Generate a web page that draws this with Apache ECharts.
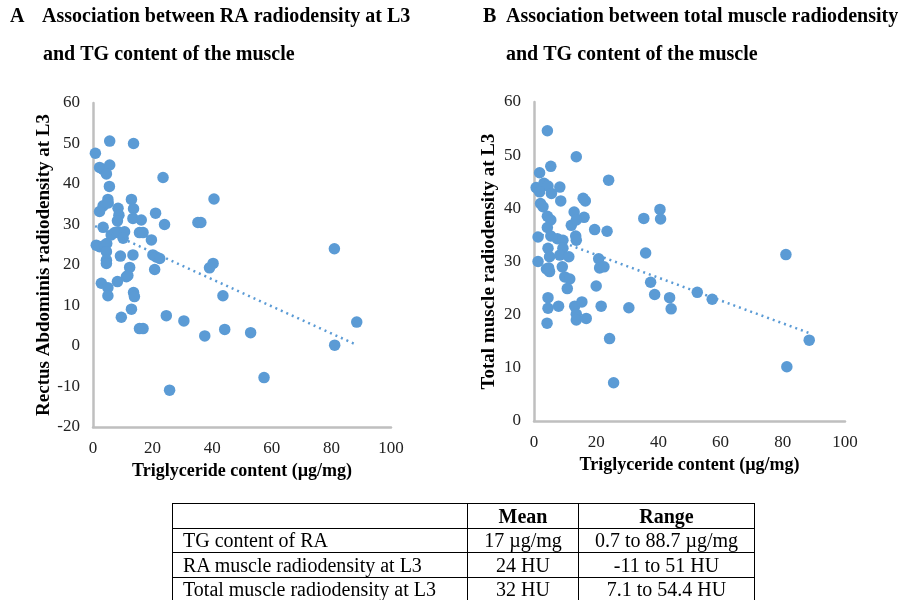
<!DOCTYPE html>
<html>
<head>
<meta charset="utf-8">
<script src="https://cdn.jsdelivr.net/npm/echarts@6/dist/echarts.min.js"></script>
<style>
html,body{margin:0;padding:0;background:#fff;}
#chart{position:absolute;left:0;top:0;width:912px;height:600px;}
#tbl{position:absolute;left:172px;top:503px;border-collapse:collapse;table-layout:fixed;font-family:"Liberation Serif","Times New Roman",serif;font-size:20px;color:#000;}
#tbl td{border:1px solid #000;padding:0 0 0 10px;height:23.5px;line-height:22px;white-space:nowrap;overflow:hidden;}
#tbl td.c{text-align:center;padding:0;}
</style>
</head>
<body>
<div id="chart"></div>
<table id="tbl">
<colgroup><col style="width:295px"><col style="width:111px"><col style="width:176px"></colgroup>
<tr><td></td><td class="c" style="font-weight:bold">Mean</td><td class="c" style="font-weight:bold">Range</td></tr>
<tr><td>TG content of RA</td><td class="c">17 µg/mg</td><td class="c">0.7 to 88.7 µg/mg</td></tr>
<tr><td>RA muscle radiodensity at L3</td><td class="c">24 HU</td><td class="c">-11 to 51 HU</td></tr>
<tr><td>Total muscle radiodensity at L3</td><td class="c">32 HU</td><td class="c">7.1 to 54.4 HU</td></tr>
</table>
<script>
// Panel A: TG content (µg/mg) vs RA radiodensity (HU)
const pointsA = [
 [0.8,47.6],[5.6,50.6],[13.6,50.0],[2.2,44.1],[3.4,43.6],[5.6,44.7],[4.5,42.5],[23.5,41.6],
 [5.5,39.4],[5.0,36.2],[12.9,36.2],[40.6,36.3],[3.4,34.6],[2.2,33.2],[5.1,35.3],[8.4,34.0],
 [13.6,33.9],[8.7,32.3],[8.2,30.9],[13.4,31.5],[16.2,31.1],[21.0,32.8],[24.0,30.0],[35.2,30.5],
 [36.2,30.5],[3.4,29.3],[6.1,27.4],[7.3,28.0],[8.4,28.2],[10.6,28.2],[10.1,26.6],[15.6,28.0],
 [16.8,28.0],[19.6,26.2],[1.1,24.9],[2.2,24.5],[3.9,24.9],[4.6,25.3],[4.5,23.3],[4.5,21.2],
 [4.5,20.4],[9.2,22.2],[13.4,22.5],[20.1,22.5],[21.2,22.0],[22.4,21.6],[12.3,19.4],[20.7,18.9],
 [40.3,20.4],[39.1,19.3],[2.8,15.5],[5.0,14.4],[5.0,12.4],[8.2,15.9],[11.2,17.1],[11.7,17.4],
 [13.6,13.2],[13.9,12.2],[43.6,12.4],[12.9,9.1],[9.5,7.1],[24.6,7.5],[30.5,6.2],[15.6,4.3],
 [16.8,4.3],[37.5,2.5],[44.2,4.1],[52.9,3.3],[25.7,-10.9],[81.0,24.0],[57.4,-7.8],[88.5,5.9],
 [81.1,0.2]
];
const trendA = [[0.7,29.6],[88.7,0.2]];

// Panel B: TG content (µg/mg) vs total muscle radiodensity (HU)
const pointsB = [
 [4.3,54.6],[13.6,49.7],[5.4,47.9],[1.8,46.7],[24.0,45.3],[0.7,43.9],[3.2,44.7],[4.5,44.2],
 [1.8,43.1],[5.6,42.8],[8.3,44.0],[8.6,41.4],[15.8,41.9],[16.5,41.4],[2.1,40.9],[2.9,40.3],
 [40.5,39.8],[35.3,38.1],[40.7,38.0],[4.3,38.5],[5.4,37.8],[12.9,39.3],[16.1,38.3],[12.0,36.8],
 [13.6,37.8],[4.3,36.4],[19.5,36.0],[23.5,35.7],[1.3,34.6],[5.4,34.8],[7.5,34.3],[9.3,34.0],
 [13.4,34.8],[13.6,34.0],[4.5,32.5],[9.3,32.5],[8.3,31.2],[5.0,30.9],[11.2,30.9],[35.9,31.6],
 [1.3,30.0],[20.8,30.5],[21.1,28.8],[22.5,29.0],[4.0,28.6],[5.0,28.1],[4.7,28.8],[9.1,29.0],
 [9.9,27.1],[11.5,26.7],[10.7,24.9],[20.0,25.4],[37.5,26.1],[38.8,23.8],[43.6,23.2],[44.1,21.1],
 [52.5,24.2],[4.5,23.2],[4.5,21.2],[7.9,21.6],[13.1,21.6],[15.4,22.4],[13.6,20.1],[13.6,19.0],
 [16.8,19.3],[21.6,21.6],[30.5,21.3],[4.2,18.4],[24.3,15.5],[25.6,7.2],[57.3,22.9],[81.0,31.3],
 [81.3,10.2],[88.5,15.2]
];
const trendB = [[0.7,35.4],[88.7,16.5]];

const titleA = ['A', 'Association between RA radiodensity at L3', 'and TG content of the muscle'];
const titleB = ['B', 'Association between total muscle radiodensity', 'and TG content of the muscle'];
const xName = 'Triglyceride content (µg/mg)';
const yNameA = 'Rectus Abdominis radiodensity at L3';
const yNameB = 'Total muscle radiodensity at L3';

const FONT = '"Liberation Serif","Times New Roman",serif';
const BLUE = '#5b9bd5';
const AXC = '#bfbfbf';

function xAxis(gridIndex, nameGap) {
  return {
    type:'value', gridIndex, min:0, max:100, interval:20,
    name:xName, nameLocation:'middle', nameGap,
    nameTextStyle:{fontFamily:FONT, fontSize:18, fontWeight:'bold', color:'#000'},
    axisLine:{show:true, onZero:false, lineStyle:{color:AXC, width:2.5}},
    axisTick:{show:false}, splitLine:{show:false},
    axisLabel:{fontFamily:FONT, fontSize:17, color:'#222', margin:13}
  };
}
function yAxis(gridIndex, min, name, nameGap) {
  return {
    type:'value', gridIndex, min, max:60, interval:10,
    name, nameLocation:'middle', nameGap, nameRotate:90,
    nameTextStyle:{fontFamily:FONT, fontSize:19, fontWeight:'bold', color:'#000'},
    axisLine:{show:true, lineStyle:{color:AXC, width:2.5}},
    axisTick:{show:false}, splitLine:{show:false},
    axisLabel:{fontFamily:FONT, fontSize:17, color:'#222', margin:13}
  };
}
function titleText(left, top, text) {
  return {type:'text', left, top, style:{text, font:'bold 20px '+FONT, fill:'#000'}};
}

const chart = echarts.init(document.getElementById('chart'), null, {renderer:'canvas'});
chart.setOption({
  animation:false,
  backgroundColor:'#fff',
  graphic:[
    titleText(10, 7, titleA[0]), titleText(42, 7, titleA[1]), titleText(43, 45, titleA[2]),
    titleText(483, 7, titleB[0]), titleText(506, 7, titleB[1]), titleText(506, 45, titleB[2])
  ],
  grid:[
    {left:93, top:103, width:298, height:324},
    {left:534, top:102, width:311, height:319}
  ],
  xAxis:[xAxis(0, 26), xAxis(1, 35)],
  yAxis:[yAxis(0, -20, yNameA, 36), yAxis(1, 0, yNameB, 35)],
  series:[
    {type:'scatter', xAxisIndex:0, yAxisIndex:0, data:pointsA, symbolSize:11.5, itemStyle:{color:BLUE, opacity:1}},
    {type:'line', xAxisIndex:0, yAxisIndex:0, data:trendA, symbol:'none', lineStyle:{color:BLUE, width:2.5, type:[2,4]}},
    {type:'scatter', xAxisIndex:1, yAxisIndex:1, data:pointsB, symbolSize:11.5, itemStyle:{color:BLUE, opacity:1}},
    {type:'line', xAxisIndex:1, yAxisIndex:1, data:trendB, symbol:'none', lineStyle:{color:BLUE, width:2.5, type:[2,4]}}
  ]
});
</script>
</body>
</html>
